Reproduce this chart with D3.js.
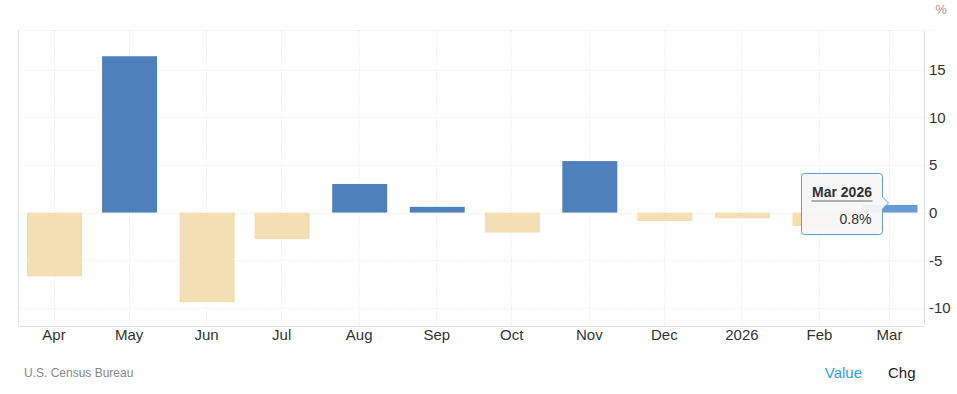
<!DOCTYPE html>
<html>
<head>
<meta charset="utf-8">
<script src="https://cdn.jsdelivr.net/npm/d3@7"></script>
<style>
  body { margin: 0; background: #fff; font-family: Arial, "Liberation Sans", sans-serif; }
</style>
</head>
<body>
<div id="chart"></div>
<script>
// Monthly change, % (U.S. Census Bureau)
const months = ["2025-04-01", "2025-05-01", "2025-06-01", "2025-07-01", "2025-08-01", "2025-09-01",
                "2025-10-01", "2025-11-01", "2025-12-01", "2026-01-01", "2026-02-01", "2026-03-01"];
const monthLabels = ["Apr", "May", "Jun", "Jul", "Aug", "Sep", "Oct", "Nov", "Dec", "2026", "Feb", "Mar"];
const changes = [-6.7, 16.4, -9.4, -2.8, 3.0, 0.6, -2.1, 5.4, -0.9, -0.6, -1.4, 0.8];
const yTicks = [-10, -5, 0, 5, 10, 15];

const parse = d3.timeParse("%Y-%m-%d");
const data = months.map((m, i) => ({ date: parse(m), label: monthLabels[i], value: changes[i] }));

let width = 957,
    height = 394;

let margin = { top: 30.5, right: 33, bottom: 68, left: 18.5 };

let svg = d3.select("#chart")
    .append("svg")
    .attr("width", width)
    .attr("height", height);

// time scale: months are not equally wide
let x = d3.scaleTime()
    .domain([parse("2025-03-18"), parse("2026-03-15")])
    .range([margin.left, width - margin.right]);

let y = d3.scaleLinear()
    .domain([-11.9, 19.1])
    .range([height - margin.bottom, margin.top]);

const plotBottom = height - margin.bottom;
const plotRight = width - margin.right;

// dotted grid
svg.append("g")
    .selectAll("line")
    .data(yTicks)
    .enter().append("line")
    .attr("x1", margin.left)
    .attr("x2", plotRight + 9)
    .attr("y1", d => Math.round(y(d)) + 0.5)
    .attr("y2", d => Math.round(y(d)) + 0.5)
    .attr("stroke", "#e3e3e3")
    .attr("stroke-dasharray", "1,2");

svg.append("line")
    .attr("x1", margin.left)
    .attr("x2", plotRight + 9)
    .attr("y1", margin.top)
    .attr("y2", margin.top)
    .attr("stroke", "#e3e3e3")
    .attr("stroke-dasharray", "1,2");

svg.append("g")
    .selectAll("line")
    .data(data)
    .enter().append("line")
    .attr("x1", d => Math.round(x(d.date)) + 0.5)
    .attr("x2", d => Math.round(x(d.date)) + 0.5)
    .attr("y1", margin.top)
    .attr("y2", plotBottom)
    .attr("stroke", "#e3e3e3")
    .attr("stroke-dasharray", "1,2");

// bars
const barWidth = 55;
svg.append("g")
    .selectAll("rect")
    .data(data)
    .enter().append("rect")
    .attr("x", d => x(d.date) - barWidth / 2 + 1)
    .attr("y", d => y(Math.max(0, d.value)))
    .attr("width", barWidth)
    .attr("height", d => Math.abs(y(d.value) - y(0)))
    .attr("fill", (d, i) => d.value < 0 ? "#f4deb4" : (i === data.length - 1 ? "#6a9bd4" : "#4e80bc"));

// axis frame lines
svg.append("line")
    .attr("x1", margin.left).attr("x2", margin.left)
    .attr("y1", margin.top).attr("y2", plotBottom)
    .attr("stroke", "#e0e0e0");

svg.append("line")
    .attr("x1", plotRight + 0.5).attr("x2", plotRight + 0.5)
    .attr("y1", margin.top).attr("y2", plotBottom)
    .attr("stroke", "#e0e0e0");

svg.append("line")
    .attr("x1", margin.left).attr("x2", plotRight)
    .attr("y1", plotBottom + 0.5).attr("y2", plotBottom + 0.5)
    .attr("stroke", "#e0e0e0");

// x axis labels
svg.append("g")
    .attr("transform", `translate(0,${plotBottom})`)
    .call(d3.axisBottom(x).tickValues(data.map(d => d.date))
        .tickFormat((d, i) => monthLabels[i]).tickSize(0).tickPadding(3))
    .call(g => g.select(".domain").remove())
    .call(g => g.selectAll("text")
        .attr("fill", "#333")
        .style("font-size", "15px")
        .style("font-family", "Arial, 'Liberation Sans', sans-serif"));

// y axis labels on the right (plain hyphen for negatives)
svg.append("g")
    .attr("transform", `translate(${plotRight},0)`)
    .call(d3.axisRight(y).tickValues(yTicks).tickFormat(d => String(d)).tickSize(0).tickPadding(5))
    .call(g => g.select(".domain").remove())
    .call(g => g.selectAll("text")
        .attr("fill", "#333")
        .style("font-size", "15px")
        .style("font-family", "Arial, 'Liberation Sans', sans-serif"));

svg.append("text")
    .attr("x", 941)
    .attr("y", 14)
    .attr("text-anchor", "middle")
    .attr("fill", "#999")
    .style("font-size", "13px")
    .text("%");

// source and toggles
svg.append("text")
    .attr("x", 24)
    .attr("y", 377)
    .attr("fill", "#888")
    .style("font-size", "12px")
    .text("U.S. Census Bureau");

svg.append("text")
    .attr("x", 862)
    .attr("y", 378)
    .attr("text-anchor", "end")
    .attr("fill", "#2d9bf0")
    .style("font-size", "15px")
    .text("Value");

svg.append("text")
    .attr("x", 888)
    .attr("y", 378)
    .attr("fill", "#222")
    .style("font-size", "15px")
    .text("Chg");

// tooltip on the last bar
const last = data[data.length - 1];
const tipX = 801.5, tipY = 173.5, tipW = 81, tipH = 61;
const tip = svg.append("g");
const ax = tipX + tipW + 6;
const ay = y(last.value) - 2;
tip.append("path")
    .attr("d", `M${tipX + 3},${tipY} H${tipX + tipW - 3} Q${tipX + tipW},${tipY} ${tipX + tipW},${tipY + 3}
        V${ay - 6} L${ax},${ay} L${tipX + tipW},${ay + 6}
        V${tipY + tipH - 3} Q${tipX + tipW},${tipY + tipH} ${tipX + tipW - 3},${tipY + tipH}
        H${tipX + 3} Q${tipX},${tipY + tipH} ${tipX},${tipY + tipH - 3}
        V${tipY + 3} Q${tipX},${tipY} ${tipX + 3},${tipY} Z`)
    .attr("fill", "#f7f7f7")
    .attr("fill-opacity", 0.95)
    .attr("stroke", "#6a9bd4")
    .attr("stroke-width", 1);

tip.append("text")
    .attr("x", tipX + tipW / 2)
    .attr("y", tipY + 23)
    .attr("text-anchor", "middle")
    .attr("fill", "#333")
    .style("font-size", "14px")
    .style("font-weight", "bold")
    .text(d3.timeFormat("%b %Y")(last.date));

tip.append("line")
    .attr("x1", tipX + 10).attr("x2", tipX + tipW - 10)
    .attr("y1", tipY + 27.5).attr("y2", tipY + 27.5)
    .attr("stroke", "#666");

tip.append("text")
    .attr("x", tipX + tipW - 11)
    .attr("y", tipY + 50)
    .attr("text-anchor", "end")
    .attr("fill", "#333")
    .style("font-size", "14px")
    .text(last.value.toFixed(1) + "%");
</script>
</body>
</html>
